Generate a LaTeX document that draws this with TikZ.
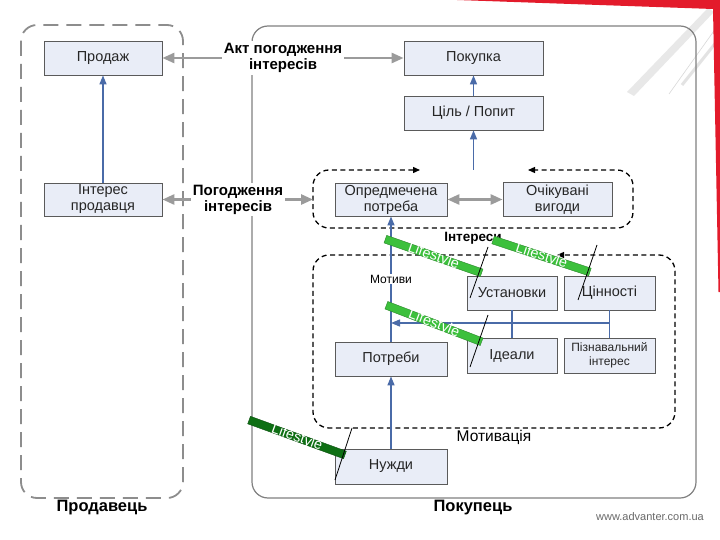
\documentclass[tikz,border=0pt]{standalone}
\usepackage{fontspec}
\setmainfont{Liberation Sans}
\usetikzlibrary{arrows.meta}
\definecolor{boxfill}{HTML}{E9EDF7}
\definecolor{boxline}{HTML}{5A5A5A}
\definecolor{arrowblue}{HTML}{4A6BA8}
\definecolor{arrowgray}{HTML}{9B9B9B}
\definecolor{framegray}{HTML}{808080}
\definecolor{lsgreen}{HTML}{3CC03C}
\definecolor{lsdark}{HTML}{0E6F14}
\definecolor{slidered}{HTML}{E31B2B}
\definecolor{webgray}{HTML}{6A6A6A}
\tikzset{
  blk/.style={draw=boxline, fill=boxfill, line width=0.8pt, inner sep=2pt,
    align=center, text=black!85, font=\fontsize{14.5}{16}\selectfont},
  agree/.style={fill=white, inner sep=2pt, align=center,
    font=\bfseries\fontsize{15}{16}\selectfont},
  caphead/.style={font=\bfseries\fontsize{16.5}{18}\selectfont},
  note/.style={fill=white, inner sep=1pt, font=\fontsize{12}{14}\selectfont},
  flowb/.style={-{Triangle[length=9pt,width=7pt]}, line width=1.4pt, draw=arrowblue},
  tree/.style={line width=1.4pt, draw=arrowblue},
  flowg/.style={-{Triangle[length=12pt,width=10pt]}, line width=2.6pt, draw=arrowgray},
  flowgg/.style={flowg, {Triangle[length=12pt,width=10pt]}-{Triangle[length=12pt,width=10pt]}},
  grp/.style={draw=black, line width=1.3pt, dash pattern=on 5pt off 3.5pt, rounded corners=16pt},
  sellerfr/.style={draw=framegray!90, line width=1.8pt, dash pattern=on 15pt off 8pt, rounded corners=16pt},
  buyerfr/.style={draw=framegray, line width=1.2pt, rounded corners=16pt},
  % the lifestyle tabs
  lsbar/.style={fill=lsgreen, draw=lsgreen!70!black, line width=0.4pt,
    minimum width=102, minimum height=8, inner sep=0pt},
  lstext/.style={text=white, inner sep=0pt, anchor=base, font=\fontsize{14.5}{14.5}\selectfont},
  slash/.style={draw=black, line width=0.8pt},
}
\begin{document}
\begin{tikzpicture}[x=1pt,y=-1pt]
  \useasboundingbox (0,0) rectangle (720,540);
  \fill[white] (0,0) rectangle (720,540);
  % slide corner
  \fill[gray!18] (708,8) -- (714,12) -- (634,96) -- (627,92) -- cycle;
  \draw[gray!30, line width=0.6pt] (716,28) -- (669,94);
  \draw[gray!22, line width=3pt] (718,40) -- (682,85);
  \fill[slidered] (457,0) -- (720,0) -- (720,292) -- (718.5,292) -- (713,9) -- cycle;
  % frames
  \draw[sellerfr] (21,25) rectangle (183,498);
  \draw[buyerfr] (252,26) rectangle (696,498);
  \draw[grp, {Triangle[length=7pt,width=6pt]}-{Triangle[length=7pt,width=6pt]}]
      (420,170) -- (313,170) -- (313,228) -- (633,228) -- (633,170) -- (528,170);
  \draw[grp, -{Triangle[length=7pt,width=6pt]}]
      (505,255) -- (313,255) -- (313,428) -- (675,428) -- (675,255) -- (557,255);
  % seller
  \node[blk, minimum width=118, minimum height=34] (prodazh) at (103,58) {Продаж};
  \node[blk, minimum width=118, minimum height=33] (intprod) at (103,199.5) {Інтерес\\продавця};
  % buyer
  \node[blk, minimum width=139, minimum height=34] (pokupka) at (473.5,58) {Покупка};
  \node[blk, minimum width=139, minimum height=34] (cil) at (473.5,113) {Ціль / Попит};
  \node[blk, minimum width=112, minimum height=33] (opred) at (391,199.5) {Опредмечена\\потреба};
  \node[blk, minimum width=109, minimum height=33] (ochik) at (557.5,199.5) {Очікувані\\вигоди};
  \node[blk, minimum width=90, minimum height=34] (ustan) at (512,293) {Установки};
  \node[blk, minimum width=91, minimum height=34] (cinn) at (609.5,293) {Цінності};
  \node[blk, minimum width=90, minimum height=35] (ideal) at (512,355.5) {Ідеали};
  \node[blk, minimum width=91, minimum height=35, font=\fontsize{12}{14}\selectfont]
      (pizn) at (609.5,355.5) {Пізнавальний\\інтерес};
  \node[blk, minimum width=112, minimum height=34] (potreby) at (391,359) {Потреби};
  \node[blk, minimum width=112, minimum height=35] (nuzhdy) at (391,466.5) {Нужди};
  % agreement
  \node[agree] (akt) at (283,58) {Акт погодження\\інтересів};
  \node[agree] (pogod) at (238,199.5) {Погодження\\інтересів};
  \coordinate (g1w) at (313,199.5);
  \coordinate (g1top) at (473.5,170);
  \draw[flowg] (akt) -- (prodazh);
  \draw[flowg] (akt) -- (pokupka);
  \draw[flowg] (pogod) -- (intprod);
  \draw[flowg] (pogod) -- (g1w);
  \draw[flowgg] (opred) -- (ochik);
  % blue flows
  \draw[flowb] (intprod) -- (prodazh);
  \draw[flowb] (cil) -- (pokupka);
  \draw[flowb] (g1top) -- (cil);
  \draw[flowb] (potreby) -- node[note] (motyvy) {Мотиви} (opred);
  \draw[flowb] (nuzhdy) -- (potreby);
  \coordinate (tr) at (609.5,323);
  \coordinate (tl) at (391,323);
  \draw[tree] (ustan) -- (ideal);
  \draw[tree] (cinn) -- (pizn);
  \draw[flowb] (tr) -- (tl);
  % texts
  \node[font=\bfseries\fontsize{13.5}{15}\selectfont] (interesy) at (473,238) {Інтереси};
  \node[font=\fontsize{15.5}{17}\selectfont] (motyvacia) at (494,437) {Мотивація};
  \node[caphead] (seller) at (102,508) {Продавець};
  \node[caphead] (buyer) at (473,508) {Покупець};
  \node[text=webgray, font=\fontsize{11}{12}\selectfont] (web) at (650,517) {www.advanter.com.ua};
  % lifestyle tabs
  \node[lsbar, rotate=-19.3] (ls1) at (433.5,256) {};
  \node[lsbar, rotate=-18.3] (ls2) at (541.5,256) {};
  \node[lsbar, rotate=-21] (ls3) at (434,323.5) {};
  \node[lsbar, rotate=-20, fill=lsdark, draw=lsdark!70!black] (ls4) at (297,437.5) {};
  \node[lstext, rotate=-19.3] at (ls1.south) {Lifestyle};
  \node[lstext, rotate=-18.3] at (ls2.south) {Lifestyle};
  \node[lstext, rotate=-21] at (ls3.south) {Lifestyle};
  \node[lstext, rotate=-20] at (ls4.south) {Lifestyle};
  \draw[slash] (488,247) -- (470,298);
  \draw[slash] (597,245) -- (578,300);
  \draw[slash] (488,315) -- (470,367);
  \draw[slash] (352,428) -- (335,480);
\end{tikzpicture}
\end{document}
